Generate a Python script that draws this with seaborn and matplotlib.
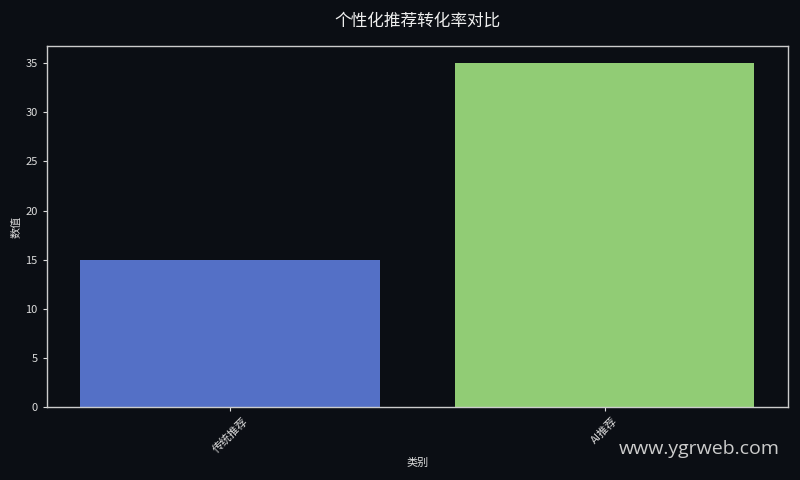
import matplotlib
matplotlib.use("Agg")
import matplotlib.pyplot as plt
import seaborn as sns
import pandas as pd

categories = ["传统推荐", "AI推荐"]
values = [15, 35]
colors = ["#5470c6", "#91cc75"]
title = "个性化推荐转化率对比"
xlabel = "类别"
ylabel = "数值"
watermark = "www.ygrweb.com"

sns.set_theme(style="dark")
bg = "#0b0e14"
plt.rcParams['font.family'] = ['Noto Sans CJK SC', 'DejaVu Sans']
plt.rcParams['axes.unicode_minus'] = False

df = pd.DataFrame({"cat": categories, "val": values})

fig = plt.figure(figsize=(8, 4.8), dpi=100, facecolor=bg)
ax = fig.add_axes([0.0584, 0.152, 0.9266, 0.752])
ax.set_facecolor(bg)
sns.barplot(data=df, x="cat", y="val", hue="cat", palette=colors, legend=False,
            ax=ax, width=0.8, saturation=1, linewidth=0)

ax.set_xlim(-0.49, 1.49)
ax.set_ylim(0, 36.75)
ax.set_yticks([0, 5, 10, 15, 20, 25, 30, 35])
for s in ax.spines.values():
    s.set_color("#cccccc")
    s.set_linewidth(1)
ax.tick_params(axis="both", colors="#dddddd", labelsize=8, length=3, width=0.8,
               bottom=True, left=True)
plt.setp(ax.get_xticklabels(), rotation=45, ha="center")
ax.set_xlabel(xlabel, color="#dddddd", fontsize=8, labelpad=2)
ax.set_ylabel(ylabel, color="#dddddd", fontsize=8, labelpad=3)
ax.grid(False)
ax.set_title(title, color="#eeeeee", fontsize=12, pad=15)
fig.text(0.975, 0.065, watermark, color="#cccccc", fontsize=14, ha="right",
         va="center", family=["Open Sans", "DejaVu Sans"])
fig.savefig("out.png", dpi=100, facecolor=bg)
